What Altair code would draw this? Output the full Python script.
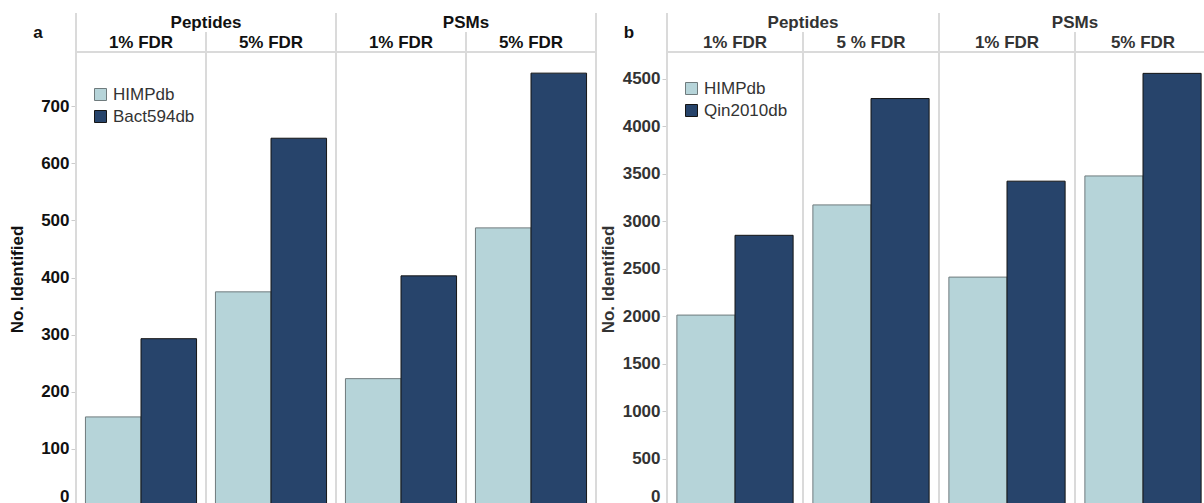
import altair as alt
import pandas as pd

# Column layout shared by both panels
groups = ["Peptides", "Peptides", "PSMs", "PSMs"]
fdr_keys = ["1%", "5%", "1%", "5%"]
fdr_labels_a = ["1% FDR", "5% FDR", "1% FDR", "5% FDR"]
fdr_labels_b = ["1% FDR", "5 % FDR", "1% FDR", "5% FDR"]

# Panel a: HIMPdb vs Bact594db
himp_a = [156, 375, 223, 487]
bact594_a = [293, 644, 403, 758]
ticks_a = [0, 100, 200, 300, 400, 500, 600, 700]

# Panel b: HIMPdb vs Qin2010db
himp_b = [2010, 3170, 2410, 3475]
qin2010_b = [2850, 4290, 3420, 4555]
ticks_b = [0, 500, 1000, 1500, 2000, 2500, 3000, 3500, 4000, 4500]

LIGHT = "#b6d4d9"
DARK = "#27446b"
GRID = "#dadada"
FONT = "Liberation Sans"
FS = 17
H = 454


def panel(letter, ref_name, himp_vals, ref_vals, fdr_labels, ymax, ticks,
          width, text_color, legend_y):
    cols = [f"{g} {k}" for g, k in zip(groups, fdr_keys)]
    bars = pd.DataFrame({
        "col": cols * 2,
        "db": ["HIMPdb"] * 4 + [ref_name] * 4,
        "n": himp_vals + ref_vals,
    })
    heads = pd.DataFrame({"col": cols, "group": groups, "fdr": fdr_labels,
                          "key": fdr_keys})
    xs = alt.Scale(domain=cols, paddingInner=0, paddingOuter=0)
    dbs = ["HIMPdb", ref_name]

    bar = alt.Chart(bars).mark_bar(strokeWidth=1).encode(
        x=alt.X("col:N", scale=xs, axis=None),
        xOffset=alt.XOffset("db:N", sort=dbs,
                            scale=alt.Scale(domain=dbs, paddingInner=0, paddingOuter=0.17)),
        y=alt.Y("n:Q", scale=alt.Scale(domain=[0, ymax], nice=False),
                axis=alt.Axis(values=ticks, format="d", title="No. Identified", grid=False,
                              domain=False, tickColor="#cccccc", tickSize=5,
                              labelFont=FONT, labelFontSize=FS, labelFontWeight="bold",
                              labelColor=text_color, labelPadding=2,
                              labelFlush=True, labelFlushOffset=-1,
                              titleFont=FONT, titleFontSize=FS, titleFontWeight="bold",
                              titleColor=text_color, titleX=-50)),
        color=alt.Color("db:N", scale=alt.Scale(domain=dbs, range=[LIGHT, DARK]),
                        legend=alt.Legend(orient="none", legendX=16, legendY=legend_y,
                                          title=None, symbolType="square", symbolSize=144,
                                          symbolStrokeColor="#333333", symbolStrokeWidth=1,
                                          labelFont=FONT, labelFontSize=FS,
                                          labelColor="#333333", labelOffset=4,
                                          rowPadding=4)),
        stroke=alt.Stroke("db:N", scale=alt.Scale(domain=dbs, range=["#6f7b7d", "#151515"]),
                          legend=None),
    )

    base = alt.Chart(heads)
    outer = base.transform_filter(alt.datum.key == "1%").mark_rule(
        color=GRID, strokeWidth=2).encode(
        x=alt.X("col:N", scale=xs, axis=None, bandPosition=0),
        y=alt.value(-39), y2=alt.value(H))
    inner = base.transform_filter(alt.datum.key == "5%").mark_rule(
        color=GRID, strokeWidth=2).encode(
        x=alt.X("col:N", scale=xs, axis=None, bandPosition=0),
        y=alt.value(-20), y2=alt.value(H))
    right = base.transform_filter(alt.datum.col == cols[-1]).mark_rule(
        color=GRID, strokeWidth=2).encode(
        x=alt.X("col:N", scale=xs, axis=None, bandPosition=1),
        y=alt.value(-39), y2=alt.value(H))
    hline = base.transform_filter(alt.datum.col == cols[0]).mark_rule(
        color=GRID, strokeWidth=2).encode(
        x=alt.value(0), x2=alt.value(width), y=alt.value(0))

    fdr_text = base.mark_text(font=FONT, fontSize=FS, fontWeight="bold",
                              color=text_color, baseline="middle").encode(
        x=alt.X("col:N", scale=xs, axis=None),
        y=alt.value(-9), text="fdr:N")
    group_text = base.transform_filter(alt.datum.key == "5%").mark_text(
        font=FONT, fontSize=FS, fontWeight="bold", color=text_color,
        baseline="middle").encode(
        x=alt.X("col:N", scale=xs, axis=None, bandPosition=0),
        y=alt.value(-29), text="group:N")
    tag = base.transform_filter(alt.datum.col == cols[0]).mark_text(
        font=FONT, fontSize=FS, fontWeight="bold", color="#111111",
        baseline="middle", align="center", text=letter).encode(
        x=alt.value(-38), y=alt.value(-19))

    return alt.layer(outer, inner, right, hline, bar, fdr_text, group_text, tag).properties(
        width=width, height=H)


pa = panel("a", "Bact594db", himp_a, bact594_a, fdr_labels_a, 795, ticks_a, 520, "#111111", 34)
pb = panel("b", "Qin2010db", himp_b, qin2010_b, fdr_labels_b, 4780, ticks_b, 544, "#333333", 28)

# Fixed 1204x503 canvas: the first plot area starts at (76, 52); anything past the edge is clipped
chart = alt.hconcat(pa, pb, spacing=71, bounds="flush").resolve_scale(
    color="independent", stroke="independent", x="independent", y="independent",
    xOffset="independent").properties(
    autosize=alt.AutoSizeParams(type="none"),
    padding={"left": 76, "top": 52, "right": 1128, "bottom": 451}
).configure_view(stroke=None).configure(background="white")

chart.save("out.html", embed_options={"renderer": "svg", "actions": False})
